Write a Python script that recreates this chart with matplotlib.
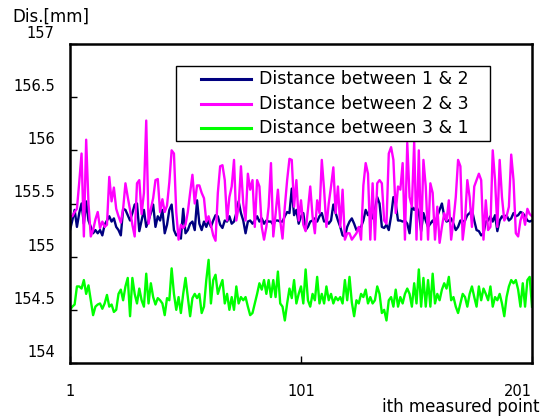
import numpy as np
from matplotlib import pyplot as plt
from matplotlib import transforms as mtransforms
from matplotlib.lines import Line2D
from matplotlib.patches import Rectangle

# distance values, point 1 .. 201
d12 = [155.25, 155.34, 155.44, 155.28, 155.41, 155.50, 155.31, 155.52, 155.34, 155.28,
       155.22, 155.25, 155.22, 155.25, 155.20, 155.30, 155.34, 155.38, 155.33, 155.36,
       155.28, 155.25, 155.20, 155.45, 155.44, 155.39, 155.34, 155.41, 155.49, 155.50,
       155.24, 155.34, 155.44, 155.28, 155.34, 155.41, 155.49, 155.28, 155.38, 155.34,
       155.44, 155.22, 155.30, 155.44, 155.49, 155.25, 155.20, 155.22, 155.17, 155.45,
       155.22, 155.25, 155.31, 155.33, 155.25, 155.53, 155.31, 155.25, 155.33, 155.28,
       155.34, 155.28, 155.34, 155.39,
       155.38, 155.30, 155.27, 155.34, 155.33, 155.38, 155.31, 155.33, 155.41, 155.52,
       155.41, 155.34, 155.22, 155.33, 155.34, 155.31, 155.34, 155.38, 155.33, 155.36, 155.31,
       155.34, 155.33, 155.33, 155.30, 155.34, 155.34, 155.33, 155.33, 155.38, 155.42, 155.41,
       155.64, 155.39, 155.44, 155.31, 155.38, 155.41, 155.25, 155.28, 155.33, 155.34,
       155.36, 155.33, 155.38, 155.41, 155.33, 155.34, 155.31, 155.34, 155.49, 155.41,
       155.34, 155.28, 155.20, 155.19, 155.28,
       155.33, 155.36, 155.31, 155.25, 155.27, 155.28, 155.34, 155.44, 155.39,
       155.44, 155.36, 155.44, 155.56, 155.50, 155.28, 155.27, 155.30, 155.25, 155.38,
       155.56, 155.50, 155.34, 155.34, 155.33, 155.34, 155.31, 155.22, 155.47, 155.44,
       155.47, 155.42, 155.24, 155.41, 155.34, 155.28, 155.31, 155.34, 155.30, 155.38,
       155.44, 155.50, 155.38, 155.33, 155.34, 155.36, 155.31, 155.25, 155.28, 155.34,
       155.33, 155.34, 155.39, 155.41, 155.44, 155.34, 155.25, 155.24, 155.20, 155.22,
       155.33, 155.34, 155.38, 155.33, 155.39, 155.24, 155.34, 155.38, 155.36, 155.39,
       155.34, 155.36, 155.41, 155.38, 155.39, 155.42, 155.41, 155.38, 155.34, 155.33,
       155.34]

d23 = [155.38, 155.38, 155.42, 155.45, 155.70, 155.97, 155.19, 156.10, 155.50, 155.19,
       155.25, 155.35, 155.42, 155.27, 155.33, 155.28, 155.30, 155.75, 155.52, 155.65,
       155.45, 155.38, 155.32, 155.45, 155.69, 155.56, 155.44, 155.30, 155.19, 155.69,
       155.72, 155.40, 155.60, 156.28, 155.31, 155.45, 155.55, 155.72, 155.73, 155.42,
       155.54, 155.42, 155.48, 155.70, 156.00, 155.97, 155.42, 155.16, 155.30, 155.27,
       155.30, 155.42, 155.60, 155.77, 155.50, 155.67, 155.67, 155.60, 155.55, 155.33,
       155.38, 155.30, 155.20, 155.15, 155.60, 155.85, 155.86, 155.72, 155.34, 155.56,
       155.66, 155.91, 155.34, 155.47, 155.85, 155.50, 155.34, 155.78, 155.63, 155.72,
       155.28, 155.72, 155.66, 155.28, 155.16, 155.28, 155.47, 155.88, 155.19, 155.40,
       155.63, 155.34, 155.17, 155.47, 155.72, 155.92, 155.91, 155.47, 155.72, 155.34,
       155.53, 155.30, 155.24, 155.44, 155.66, 155.38, 155.22, 155.53, 155.41, 155.91,
       155.63, 155.28, 155.50, 155.66, 155.84, 155.41, 155.66, 155.28, 155.63, 155.16,
       155.22, 155.22, 155.16, 155.19, 155.22, 155.28, 155.16, 155.67, 155.88, 155.78,
       155.16, 155.69, 155.16, 155.69, 155.72, 155.69, 155.34, 155.31, 155.97, 156.03,
       155.91, 155.41, 155.66, 155.63, 155.88, 155.16, 156.07, 155.56, 155.47, 156.08,
       155.16, 156.00, 155.16, 155.91, 155.66, 155.16, 155.69, 155.60, 155.16, 155.47,
       155.13, 155.28, 155.41, 155.34, 155.53, 155.16, 155.34, 155.56, 155.91, 155.85,
       155.16, 155.34, 155.72, 155.56, 155.28, 155.66, 155.72, 155.78, 155.72, 155.16,
       155.53, 155.25, 155.28, 156.00, 155.72, 155.28, 155.91, 155.56, 155.34, 155.38,
       155.47, 155.96, 155.72, 155.22, 155.19, 155.34, 155.41, 155.30, 155.45, 155.40,
       155.38]

d31 = [154.50, 154.53, 154.55, 154.72, 154.72, 154.70, 154.78, 154.65, 154.73, 154.59,
       154.45, 154.53, 154.55, 154.56, 154.51, 154.56, 154.64, 154.53, 154.55, 154.48,
       154.50, 154.65, 154.69, 154.59, 154.72, 154.80, 154.44, 154.80, 154.65, 154.56,
       154.70, 154.59, 154.53, 154.84, 154.56, 154.75, 154.62, 154.55, 154.61, 154.59,
       154.56, 154.45, 154.61, 154.59, 154.89, 154.65, 154.50, 154.62, 154.47, 154.65,
       154.80, 154.62, 154.44, 154.61, 154.65, 154.61, 154.65, 154.47, 154.53, 154.78,
       154.97, 154.56, 154.78, 154.83, 154.65, 154.72,
       154.78, 154.56, 154.65, 154.50, 154.62, 154.50, 154.72, 154.56, 154.62, 154.59,
       154.62, 154.53, 154.45, 154.47, 154.56, 154.65, 154.75, 154.69, 154.78, 154.65,
       154.78, 154.62, 154.78, 154.62, 154.86, 154.56, 154.53, 154.40, 154.56, 154.70,
       154.61, 154.78, 154.56, 154.65, 154.72, 154.56, 154.88, 154.59, 154.53, 154.65,
       154.59, 154.81, 154.56, 154.65, 154.56, 154.72, 154.59, 154.65, 154.56, 154.62,
       154.59, 154.62, 154.56, 154.78, 154.59, 154.81, 154.57, 154.44, 154.59, 154.56,
       154.65, 154.62, 154.69, 154.56,
       154.62, 154.56, 154.59, 154.72, 154.65, 154.47, 154.50, 154.40, 154.59, 154.62,
       154.53, 154.69, 154.53, 154.62, 154.56, 154.65, 154.70, 154.65, 154.53, 154.75,
       154.56, 154.88, 154.53, 154.80, 154.53, 154.78, 154.53, 154.84, 154.56, 154.65,
       154.59, 154.69, 154.75, 154.70, 154.81, 154.59, 154.62, 154.53, 154.47, 154.56,
       154.65, 154.62, 154.53, 154.65, 154.72, 154.62, 154.53, 154.72, 154.59, 154.70,
       154.65, 154.59, 154.72, 154.53, 154.62, 154.59, 154.65, 154.56, 154.44, 154.62,
       154.72, 154.78, 154.75, 154.78, 154.69, 154.53, 154.75, 154.53, 154.78, 154.81,
       154.53]

series = [(d12, 'Distance between 1 & 2', '#000080'),
          (d23, 'Distance between 2 & 3', '#ff00ff'),
          (d31, 'Distance between 3 & 1', '#00ff00')]

y_ticks = [154, 154.5, 155, 155.5, 156, 156.5, 157]
x_ticks = [1, 101, 201]

plt.rcParams['font.family'] = ['DejaVu Sans']

W, H = 549, 419
fig = plt.figure(figsize=(W / 100, H / 100), dpi=100)
ax = fig.add_axes([70/W, 1 - 363/H, 462/W, 319/H])

for vals, name, col in series:
    xs = np.arange(1, len(vals) + 1)
    ax.plot(xs, vals, color=col, lw=1.7, label=name)

ax.set_xlim(1, 201)
ax.set_ylim(154, 157)
ax.set_yticks(y_ticks)
ax.set_yticklabels(['%g' % v for v in y_ticks], fontsize=10.5)
ax.set_xticks(x_ticks)
ax.set_xticklabels([str(v) for v in x_ticks], fontsize=10.5)
ax.tick_params(direction='in', length=5, width=1)
ax.tick_params(axis='y', pad=11)
ax.tick_params(axis='x', pad=15)
ax.get_xticklabels()[-1].set_ha('right')
# the y labels sit a little above their ticks in the original
shift = mtransforms.ScaledTranslation(0, 12/100, fig.dpi_scale_trans)
for lab in ax.get_yticklabels():
    lab.set_transform(lab.get_transform() + shift)
for sp in ax.spines.values():
    sp.set_linewidth(1.8)

fig.text(12/W, 1 - 17/H, 'Dis.[mm]', fontsize=12, va='center', ha='left')
fig.text(539/W, 1 - 407/H, 'ith measured point', fontsize=12, va='center', ha='right')

# legend box drawn by hand so its size matches the original
fig.add_artist(Rectangle((176/W, 1 - 141/H), 314/W, 75/H, transform=fig.transFigure,
                         facecolor='white', edgecolor='black', lw=1.0, zorder=5))
for k, (vals, name, col) in enumerate(series):
    yy = 1 - (79 + 24.7 * k) / H
    fig.add_artist(Line2D([201/W, 251/W], [yy, yy], transform=fig.transFigure,
                          color=col, lw=2.2, zorder=6))
    fig.text(259/W, yy, name, fontsize=12.5, va='center', ha='left', zorder=6)

fig.savefig('out.png', dpi=100)
